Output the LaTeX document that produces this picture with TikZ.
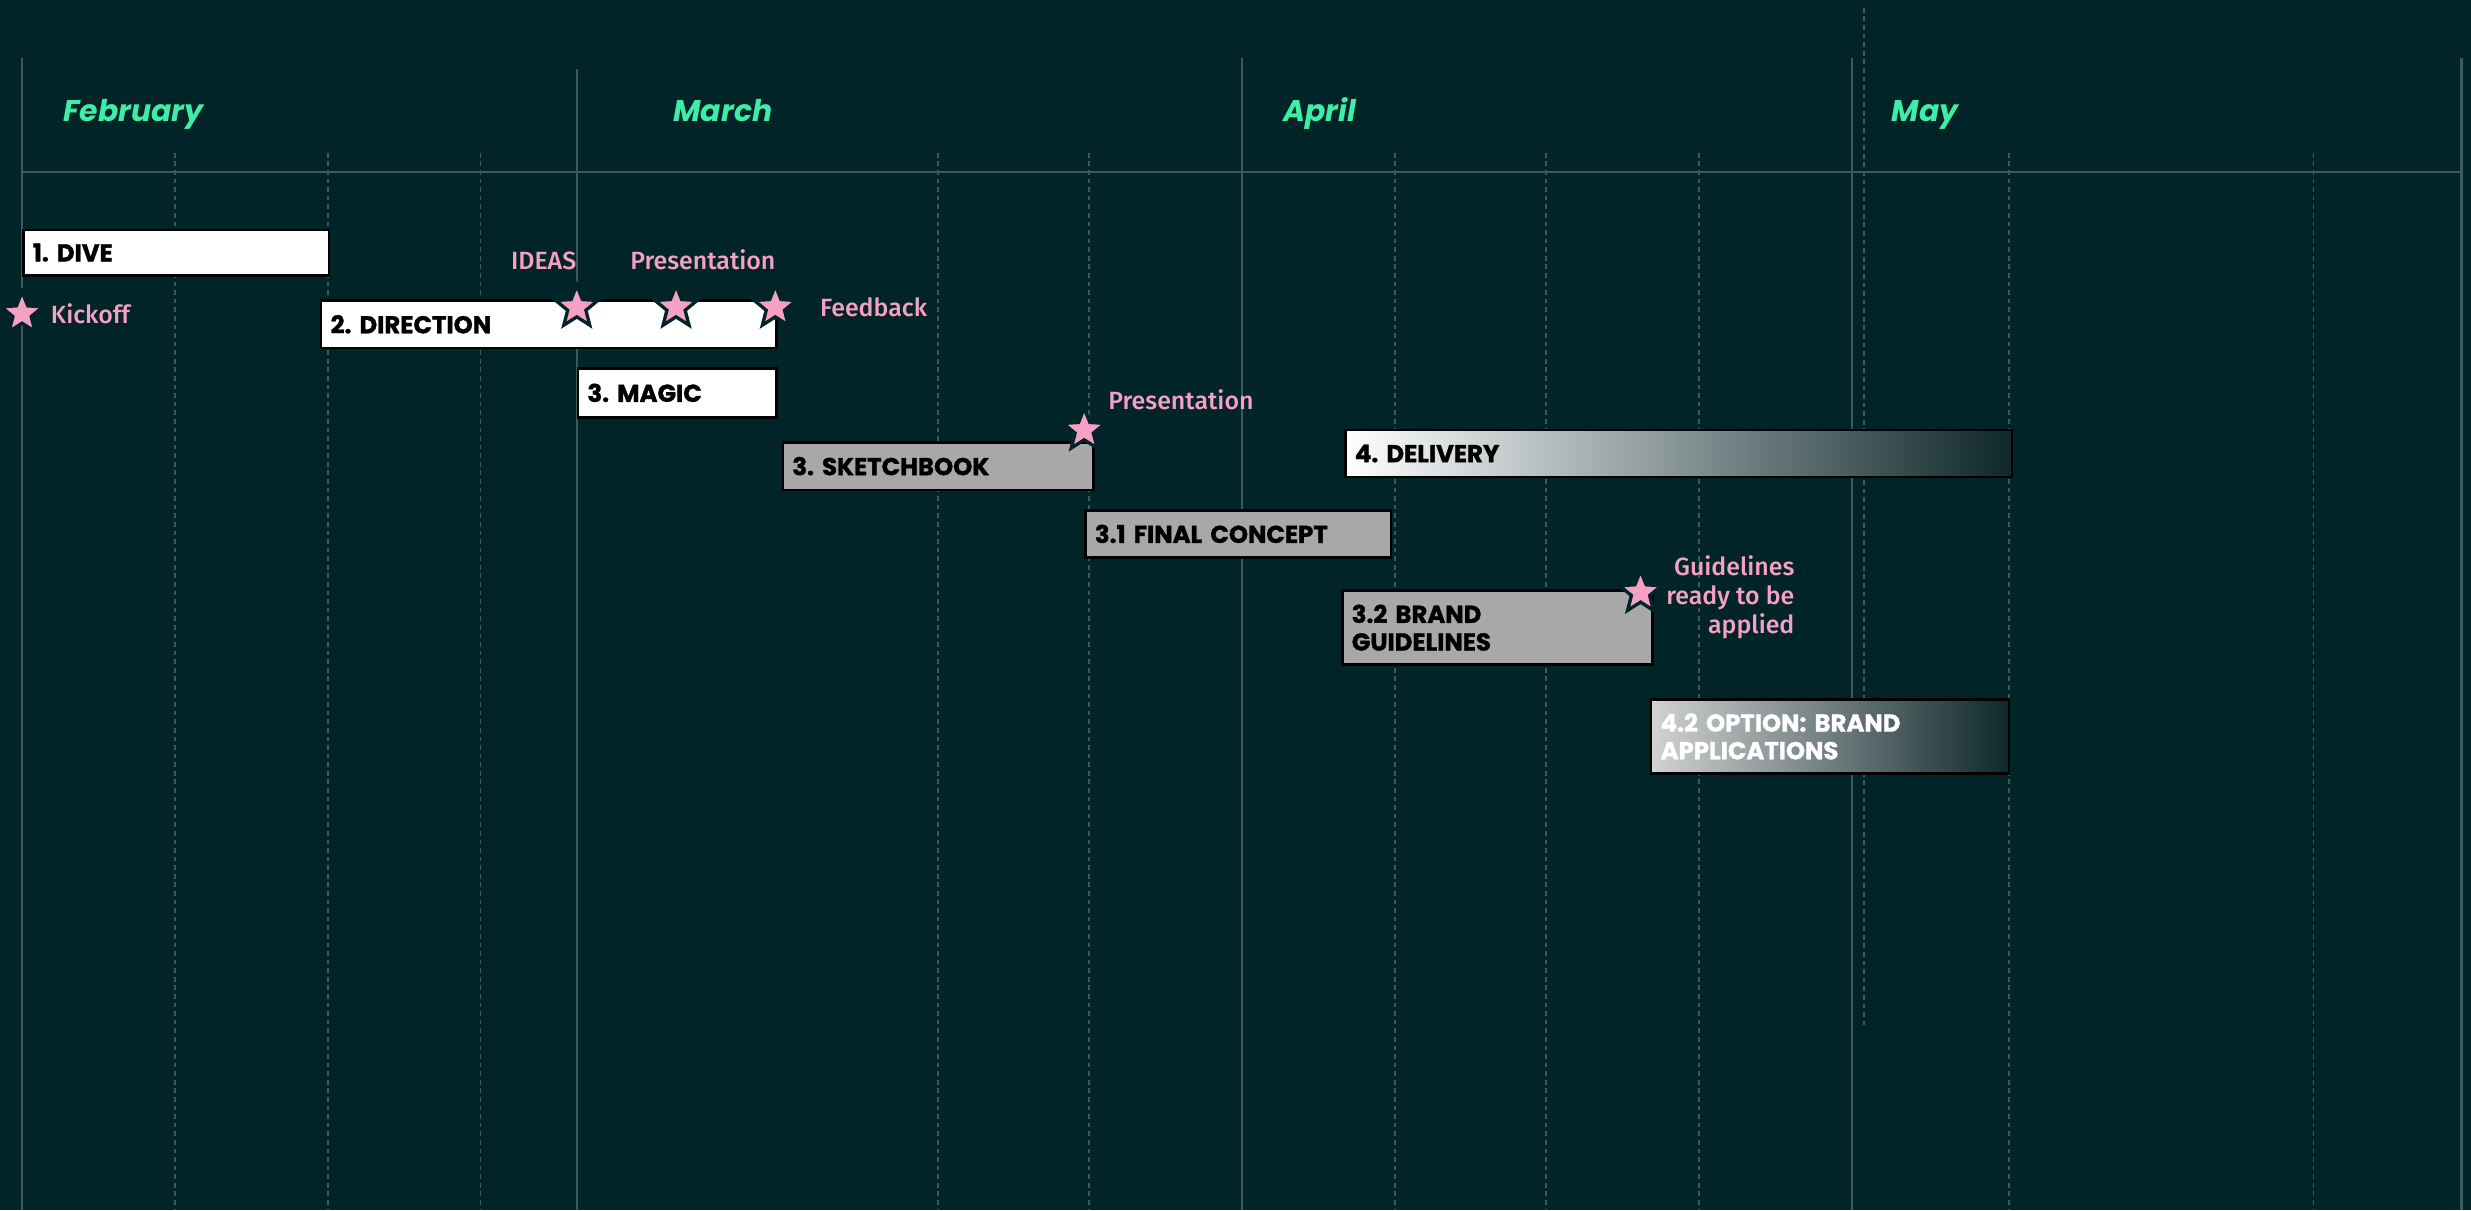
\documentclass[tikz,border=0pt]{standalone}
\usepackage{fontspec}
\usepackage{tikz}
\usetikzlibrary{shapes.geometric,positioning}
\frenchspacing
\newfontfamily\taskfont{Poppins}[BoldFeatures={FakeBold=1.3}]
\newfontfamily\monthfont{Poppins}
\newfontfamily\notefont{Fira Sans}[UprightFont=* Medium]
\definecolor{bg}{HTML}{012428}
\definecolor{grid3}{HTML}{3C5A5B}
\definecolor{pink3}{HTML}{F6A0C4}
\definecolor{green3}{HTML}{3DEFA6}
\definecolor{gray3}{HTML}{A8A8A8}
\definecolor{dark3}{HTML}{0E282B}

\begin{document}
\begin{tikzpicture}[x=0.02cm, y=-0.02cm, every node/.style={inner sep=0pt},
  task/.style={draw=black, line width=0.9pt, anchor=north west, inner xsep=0.12cm,
    align=left, font=\taskfont\bfseries\fontsize{8.8}{10}\selectfont},
  month/.style={anchor=base west, text=green3, font=\monthfont\bfseries\itshape\fontsize{10.8}{12}\selectfont},
  note/.style={text=pink3, font=\notefont\fontsize{9}{10.5}\selectfont},
  milestone/.style={star, star points=5, star point ratio=2.3, fill=pink3, draw=bg,
    line width=1.2pt, minimum size=0.56cm},
  weekline/.style={grid3, line width=0.6pt, dash pattern=on 1.7pt off 1.4pt},
  monthline/.style={grid3, line width=0.8pt}]

  \useasboundingbox (0,0) rectangle (1568,768);
  \fill[bg] (0,0) rectangle (1568,768);

  % grid
  \draw[weekline] (111,97) -- (111,768);
  \draw[weekline] (208,97) -- (208,768);
  \draw[weekline] (305,97) -- (305,768);
  \draw[weekline] (595,97) -- (595,768);
  \draw[weekline] (691,97) -- (691,768);
  \draw[weekline] (885,97) -- (885,768);
  \draw[weekline] (981,97) -- (981,768);
  \draw[weekline] (1078,97) -- (1078,768);
  \draw[weekline] (1275,97) -- (1275,768);
  \draw[weekline] (1468,97) -- (1468,768);
  \draw[weekline] (1183,5) -- (1183,652);

  \draw[monthline] (14,37) -- (14,768);
  \draw[monthline] (366,44) -- (366,768);
  \draw[monthline] (788,37) -- (788,768);
  \draw[monthline] (1175,37) -- (1175,768);
  \draw[monthline] (1562,37) -- (1562,768);
  \draw[monthline] (14,109) -- (1562,109);

  \node[month] (feb) at (40,77) {February};
  \node[month] (mar) at (427,77) {March};
  \node[month] (apr) at (814,77) {April};
  \node[month] (may) at (1200,77) {May};

  % tasks
  \node[task, fill=white, text width=3.64cm, minimum height=0.58cm] (dive) at (14,145) {1. DIVE};
  \node[task, fill=white, text width=5.54cm, minimum height=0.60cm] (direction) at (203,190) {2. DIRECTION};
  \node[task, fill=white, text width=2.28cm, minimum height=0.62cm] (magic) at (366,233) {3. MAGIC};
  \node[task, fill=gray3, text width=3.70cm, minimum height=0.60cm] (sketch) at (496,280) {3. SKETCHBOOK};
  \node[task, fill=gray3, text width=3.64cm, minimum height=0.60cm] (final) at (688,323) {3.1 FINAL CONCEPT};
  \node[task, fill=gray3, text width=3.70cm, minimum height=0.94cm] (brand) at (851,374) {3.2 BRAND\\GUIDELINES};
  \node[task, left color=white, right color=dark3, text width=8.22cm, minimum height=0.60cm] (delivery) at (853,272) {4. DELIVERY};
  \node[task, left color=gray!35, right color=dark3, text=white, text width=4.30cm, minimum height=0.94cm] (option) at (1047,443) {4.2 OPTION: BRAND\\APPLICATIONS};

  % milestones
  \node[milestone] (kickoff) at (14,199) {};
  \node[milestone] (ideas) at (366,195) {};
  \node[milestone] (pres1) at (429,195) {};
  \node[milestone] (feedback) at (492,195) {};
  \node[milestone] (pres2) at (688,273) {};
  \node[milestone] (guide) at (1041,376) {};

  \node[note, anchor=base west] (kickofftxt) at (32,205) {Kickoff};
  \node[note, anchor=base east] (ideastxt) at (366,171) {IDEAS};
  \node[note, anchor=base] (pres1txt) at (446,171) {Presentation};
  \node[note, anchor=base west] (feedbacktxt) at (520,201) {Feedback};
  \node[note, anchor=base west] (pres2txt) at (703,260) {Presentation};
  \node[note, anchor=north east, align=right] (guidetxt) at (1139,352) {Guidelines\\ready to be\\applied};

\end{tikzpicture}
\end{document}
